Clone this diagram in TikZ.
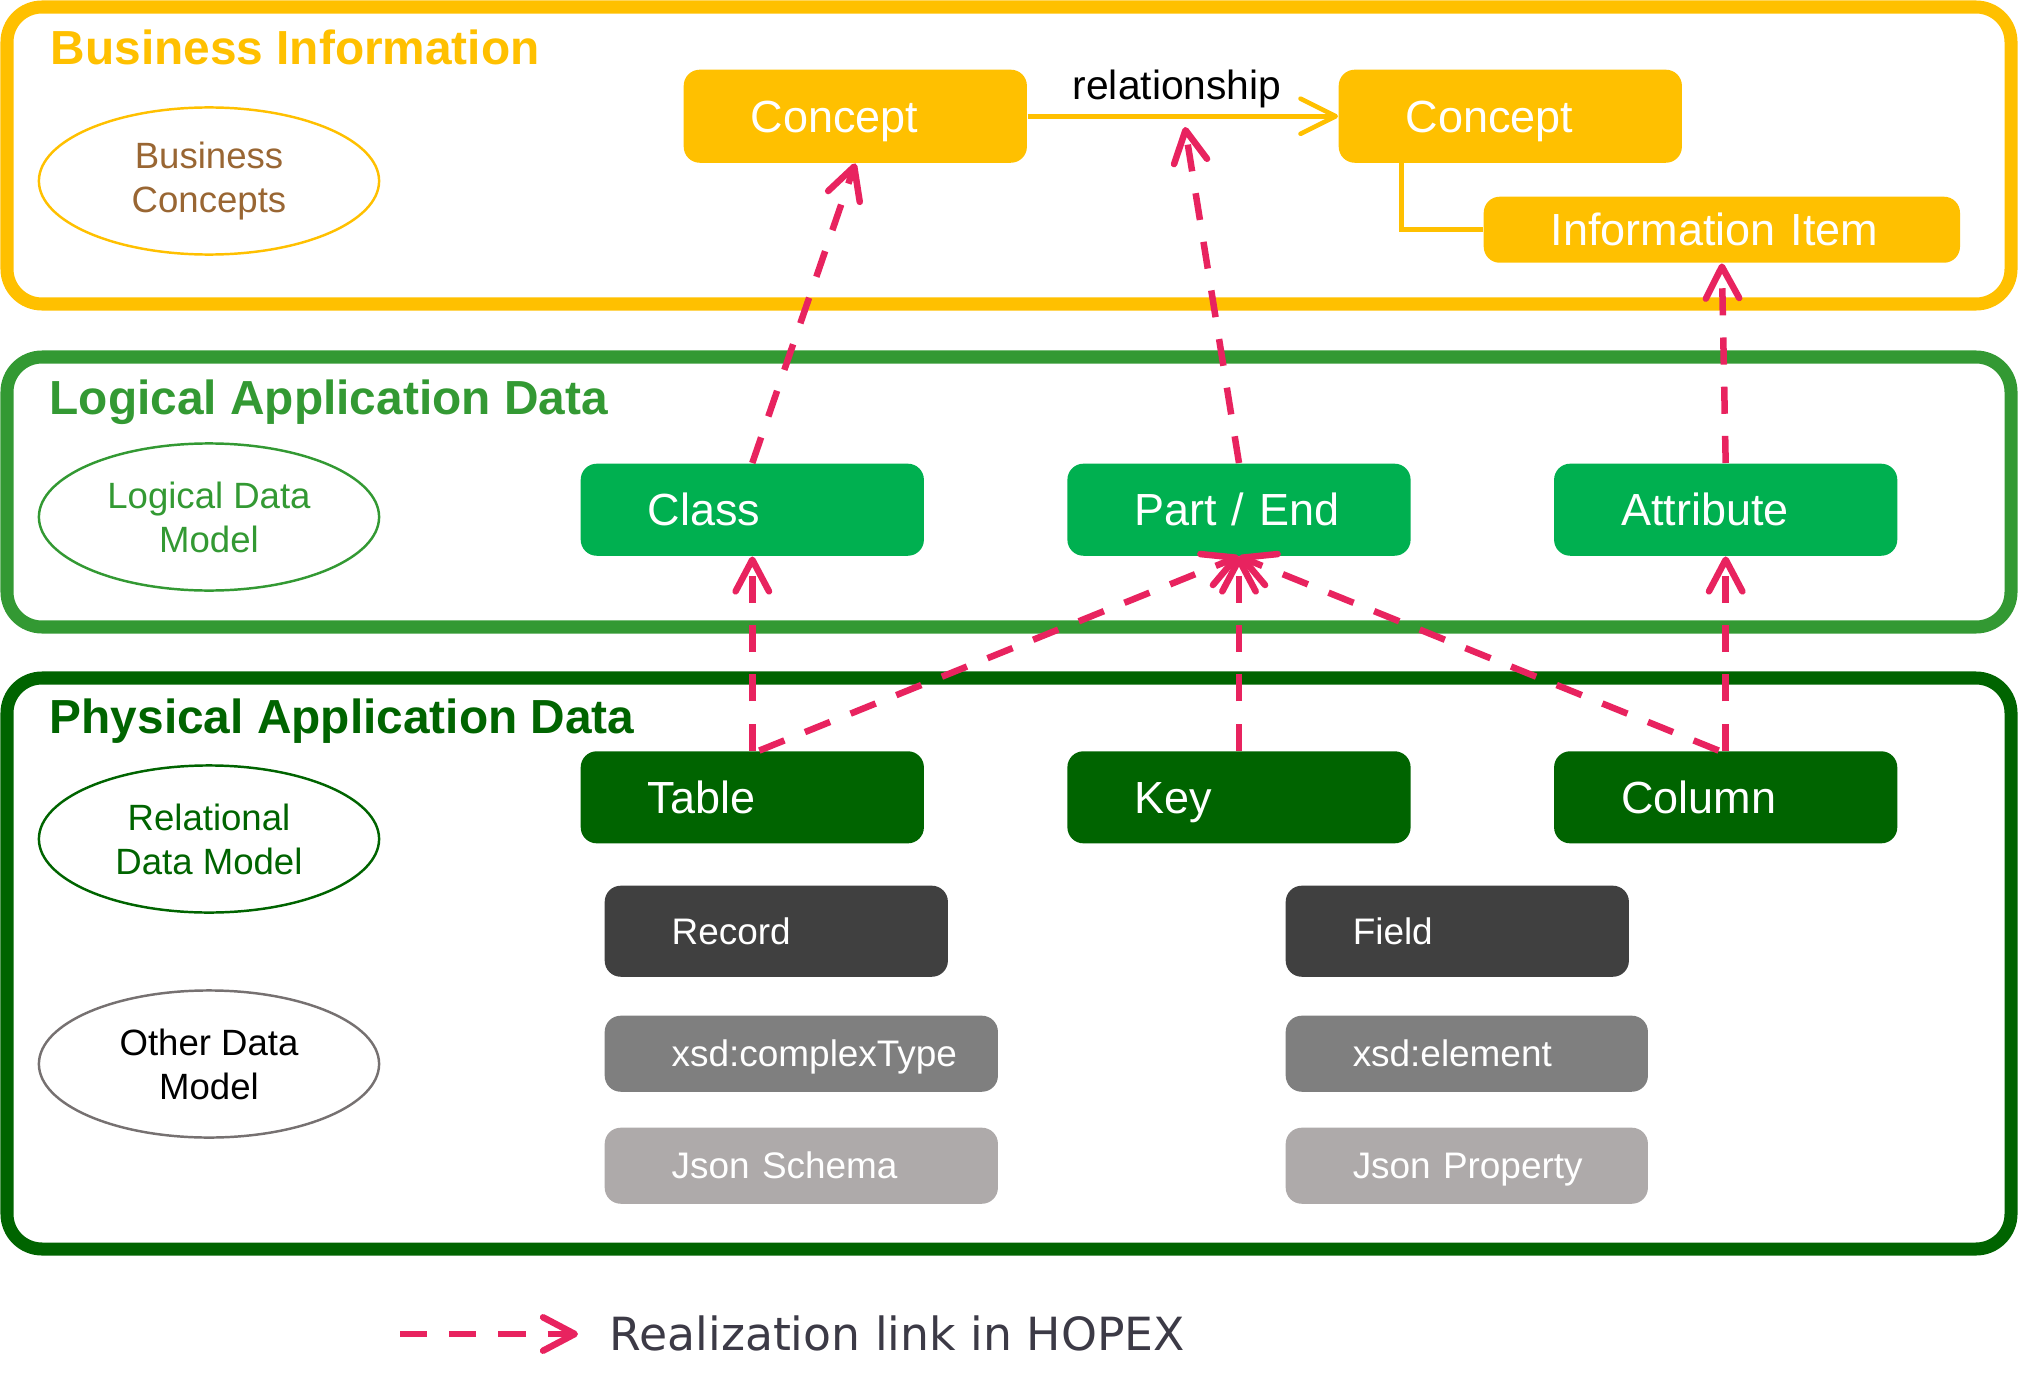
\documentclass[tikz,border=0pt]{standalone}
\usepackage{fontspec}
\setmainfont{Liberation Sans}
\newfontfamily\legendfont{DejaVu Sans}
\usepackage{tikz}
\usetikzlibrary{shapes.geometric,arrows.meta,positioning}
\usepackage{xcolor}

\definecolor{bizyellow}{RGB}{255,192,0}
\definecolor{bizbrown}{RGB}{153,102,51}
\definecolor{logicpanel}{RGB}{51,153,51}
\definecolor{logicgreen}{RGB}{0,176,80}
\definecolor{physgreen}{RGB}{0,100,0}
\definecolor{recordgrey}{RGB}{64,64,64}
\definecolor{xsdgrey}{RGB}{127,127,127}
\definecolor{jsongrey}{RGB}{174,170,170}
\definecolor{othergrey}{RGB}{118,113,113}
\definecolor{realpink}{RGB}{232,35,95}
\definecolor{legendgrey}{RGB}{60,58,70}

\newcommand{\titlefont}{\fontsize{13.6}{16}\selectfont\bfseries}
\newcommand{\boxfont}{\fontsize{12.8}{15}\selectfont}
\newcommand{\smallboxfont}{\fontsize{10.5}{12.5}\selectfont}
\newcommand{\ovalfont}{\fontsize{10.4}{12.5}\selectfont}

\begin{document}
\begin{tikzpicture}[
    x=0.01cm, y=-0.01cm,
    panel/.style={draw=#1, line width=3.7pt, rounded corners=0.35cm},
    layertitle/.style={anchor=base west, inner sep=0pt, font=\titlefont, text=#1},
    modeloval/.style={ellipse, draw=#1, line width=0.7pt, minimum width=3.4cm, minimum height=1.47cm, align=center, font=\ovalfont},
    box/.style={rectangle, rounded corners=0.16cm, text=white, inner xsep=0pt, text width=#1, align=left, execute at begin node={\hspace*{0.67cm}}},
    concept/.style={box=3.43cm, fill=bizyellow, minimum height=0.93cm, font=\boxfont, text height=11.8pt, text depth=2.6pt},
    logicbox/.style={box=3.43cm, fill=logicgreen, minimum height=0.92cm, font=\boxfont, text height=11.8pt, text depth=2.6pt},
    physbox/.style={box=3.43cm, fill=physgreen, minimum height=0.92cm, font=\boxfont, text height=11.8pt, text depth=2.6pt},
    formatbox/.style={box=#1, minimum height=0.76cm, font=\smallboxfont, text height=9.7pt, text depth=2.2pt},
    realize/.style={draw=realpink, line width=1.85pt, dash pattern=on 7.7pt off 6.3pt, -{Straight Barb[length=9pt, width=9.5pt, round]}},
    relation/.style={draw=bizyellow, line width=1.3pt, -{Straight Barb[length=10pt, width=10pt, round]}}
]
\useasboundingbox (0,0) rectangle (2024,1388);

% Layer panels
\draw[panel=bizyellow] (7,7) rectangle (2011,304);
\draw[panel=logicpanel] (7,357) rectangle (2011,627);
\draw[panel=physgreen] (7,678) rectangle (2011,1249);

% Layer titles
\node[layertitle=bizyellow] (biztitle) at (50,65) {Business Information};
\node[layertitle=logicpanel] (logictitle) at (49,414) {Logical Application Data};
\node[layertitle=physgreen] (phystitle) at (49,733) {Physical Application Data};

% Models
\node[modeloval=bizyellow, text=bizbrown] (bizmodel) at (209,181) {Business\\Concepts};
\node[modeloval=logicpanel, text=logicpanel] (logicmodel) at (209,517) {Logical Data\\Model};
\node[modeloval=physgreen, text=physgreen] (relmodel) at (209,839) {Relational\\Data Model};
\node[modeloval=othergrey, text=black] (othermodel) at (209,1064) {Other Data\\Model};

% Business layer
\node[concept, anchor=north west] (concept1) at (683,69) {Concept};
\node[concept, anchor=north west] (concept2) at (1338,69) {Concept};
\node[concept, text width=4.76cm, minimum height=0.66cm, inner ysep=0pt, anchor=north west] (info) at (1483,196) {Information Item};

% Logical layer
\node[logicbox, anchor=north west] (class) at (580,463) {Class};
\node[logicbox, right=1.42cm of class] (part) {Part / End};
\node[logicbox, right=1.42cm of part] (attribute) {Attribute};

% Physical layer
\node[physbox, below=1.94cm of class] (table) {Table};
\node[physbox, right=1.42cm of table] (key) {Key};
\node[physbox, right=1.42cm of key] (column) {Column};

\node[formatbox=3.43cm, fill=recordgrey, minimum height=0.91cm, anchor=north west] (record) at (604,885) {Record};
\node[formatbox=3.43cm, fill=recordgrey, minimum height=0.91cm, anchor=north west] (field) at (1285,885) {Field};
\node[formatbox=3.93cm, fill=xsdgrey, anchor=north west] (complextype) at (604,1015) {xsd:complexType};
\node[formatbox=3.62cm, fill=xsdgrey, anchor=north west] (element) at (1285,1015) {xsd:element};
\node[formatbox=3.93cm, fill=jsongrey, anchor=north west] (jsonschema) at (604,1127) {Json Schema};
\node[formatbox=3.62cm, fill=jsongrey, anchor=north west] (jsonprop) at (1285,1127) {Json Property};

% Business connectors
\draw[relation] (concept1.east) -- (concept2.west);
\node[anchor=base, font=\fontsize{11.6}{14}\selectfont] (rellabel) at (1177,100) {relationship};
\draw[draw=bizyellow, line width=1.4pt] ([xshift=0.63cm]concept2.south west) |- (info.west);

% Realization links
\coordinate (relpoint) at (1185,127);
\draw[realize] (class.north) -- (concept1.south);
\draw[realize] (part.north) -- (relpoint);
\draw[realize] (attribute.north) -- (info.south);
\draw[realize] (table.north) -- (class.south);
\draw[realize] ([xshift=0.07cm]table.north) -- (part.south);
\draw[realize] (key.north) -- (part.south);
\draw[realize] ([xshift=-0.07cm]column.north) -- (part.south);
\draw[realize] (column.north) -- (attribute.south);

% Legend
\coordinate (legstart) at (400,1334);
\coordinate (legtip) at (578,1334);
\draw[realize] (legstart) -- (legtip);
\node[anchor=base west, inner sep=0pt, font=\legendfont\fontsize{13}{15}\selectfont, text=legendgrey] (legend) at (609,1350) {Realization link in HOPEX};

\end{tikzpicture}
\end{document}
